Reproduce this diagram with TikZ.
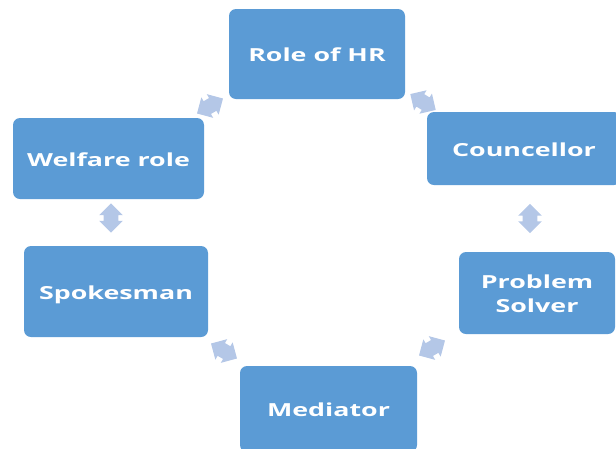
\documentclass[tikz,border=0pt]{standalone}
\usepackage{fontspec}
\usepackage{graphicx}
\setmainfont{Open Sans}
\usetikzlibrary{shapes.arrows}
\definecolor{boxblue}{HTML}{5B9BD5}
\definecolor{arrowblue}{HTML}{B4C7E7}
\newcommand{\widetext}[1]{\raisebox{-3pt}[\height][\depth]{\scalebox{1.49}[1]{\begin{tabular}{@{}c@{}}#1\end{tabular}}}}
\tikzset{
  rolebox/.style={rectangle, rounded corners=7pt, fill=boxblue, draw=none,
    text=white, font=\bfseries\fontsize{18}{24}\selectfont, align=center, inner sep=0pt},
  cyclearrow/.style={double arrow, fill=arrowblue, draw=none, minimum height=30pt,
    inner sep=5pt, double arrow head extend=4.5pt, shape border uses incircle}
}
\begin{document}
\begin{tikzpicture}[x=1pt,y=-1pt]
\useasboundingbox (0,0) rectangle (616,448);
\clip (0,0) rectangle (616,448);
\node[rolebox, minimum width=176pt, minimum height=90pt] (hr) at (317,54) {\widetext{Role of HR}};
\node[rolebox, minimum width=194pt, minimum height=73pt] (coun) at (524,148.5) {\widetext{Councellor}};
\node[rolebox, minimum width=156pt, minimum height=82pt] (prob) at (537,293) {\widetext{Problem\\Solver}};
\node[rolebox, minimum width=177pt, minimum height=86pt] (med) at (328.5,409) {\widetext{Mediator}};
\node[rolebox, minimum width=184pt, minimum height=91pt] (spk) at (116,291.5) {\widetext{Spokesman}};
\node[rolebox, minimum width=191pt, minimum height=81pt] (wel) at (108.5,158.5) {\widetext{Welfare role}};
\node[cyclearrow, rotate=30] (a1) at (210,106) {};
\node[cyclearrow, rotate=-32] (a2) at (423,102) {};
\node[cyclearrow, rotate=90, minimum height=27pt] (a3) at (530,218.5) {};
\node[cyclearrow, rotate=30] (a4) at (432,348) {};
\node[cyclearrow, rotate=-30] (a5) at (224,351) {};
\node[cyclearrow, rotate=90, minimum height=27pt] (a6) at (111,218) {};
\end{tikzpicture}
\end{document}
